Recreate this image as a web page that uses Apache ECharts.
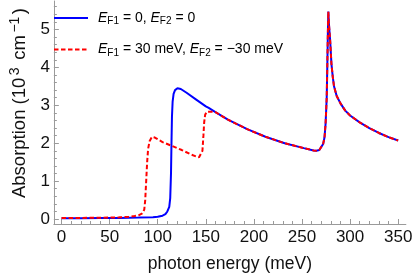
<!DOCTYPE html>
<html><head><meta charset="utf-8">
<script src="https://cdn.jsdelivr.net/npm/echarts@6/dist/echarts.min.js"></script>
<style>html,body{margin:0;padding:0;background:#fff}#c{width:415px;height:278px}</style>
</head><body><div id="c"></div>
<script>
// photon energy (meV) and absorption (10^3 cm^-1)
const blueEnergy = [0, 20, 40, 60, 80, 95, 100, 105, 108, 110, 112, 113, 113.8, 114.3, 114.8, 115.5, 116.5, 118, 120.5, 124, 130, 140, 150, 153, 160, 173, 193, 212, 232, 252, 262, 265, 268, 270, 272, 273.4, 274.5, 275.2, 275.7, 276.3, 276.9, 277.4, 278, 279.3, 280.6, 282, 283.3, 286, 290, 295, 300, 310, 320, 330, 340, 350];
const blueAbs = [0.02, 0.02, 0.025, 0.03, 0.04, 0.05, 0.06, 0.09, 0.13, 0.2, 0.32, 0.55, 1.2, 2.0, 2.7, 3.1, 3.3, 3.4, 3.45, 3.43, 3.33, 3.15, 2.97, 2.93, 2.82, 2.62, 2.37, 2.17, 2.0, 1.87, 1.81, 1.80, 1.82, 1.86, 1.98, 2.15, 2.5, 2.9, 3.2, 4.0, 4.9, 5.47, 5.15, 4.7, 4.1, 3.75, 3.5, 3.25, 3.05, 2.86, 2.73, 2.55, 2.40, 2.27, 2.16, 2.07];
const redEnergy = [0, 20, 40, 60, 70, 76, 80, 82, 84, 86, 87, 88, 89, 90, 91.5, 94, 97, 105, 114.6, 125, 135, 140, 143, 145, 146.5, 147.5, 148.3, 149.3, 151, 153, 157, 160, 173, 193, 212, 232, 252, 262, 265, 268, 270, 272, 273.4, 274.5, 275.2, 275.7, 276.3, 276.9, 277.4, 278, 279.3, 280.6, 282, 283.3, 286, 290, 295, 300, 310, 320, 330, 340, 350];
const redAbs = [0.03, 0.03, 0.035, 0.045, 0.06, 0.08, 0.1, 0.12, 0.15, 0.25, 0.5, 1.0, 1.5, 1.85, 2.05, 2.17, 2.15, 2.03, 1.93, 1.82, 1.7, 1.65, 1.63, 1.66, 1.8, 2.2, 2.55, 2.75, 2.83, 2.85, 2.83, 2.82, 2.62, 2.37, 2.17, 2.0, 1.87, 1.81, 1.80, 1.82, 1.86, 1.98, 2.15, 2.5, 2.9, 3.2, 4.0, 4.9, 5.47, 5.15, 4.7, 4.1, 3.75, 3.5, 3.25, 3.05, 2.86, 2.73, 2.55, 2.40, 2.27, 2.16, 2.07];
const xMajorTicks = [0, 50, 100, 150, 200, 250, 300, 350];
const xMinorTicks = [10,20,30,40,60,70,80,90,110,120,130,140,160,170,180,190,210,220,230,240,260,270,280,290,310,320,330,340];
const yMajorTicks = [0, 1, 2, 3, 4, 5];
const yMinorTicks = [0.2,0.4,0.6,0.8,1.2,1.4,1.6,1.8,2.2,2.4,2.6,2.8,3.2,3.4,3.6,3.8,4.2,4.4,4.6,4.8,5.2,5.4,5.6];
const seriesNames = ['blue', 'red'];

const FONT = '"Liberation Sans", Arial, sans-serif';
const axisGray = '#9a9a9a';
const xMin = -8, xMax = 358, yMin = -0.13, yMax = 5.75;

const chart = echarts.init(document.getElementById('c'), null, {renderer: 'canvas'});
const legendText = {
  blue: '{i|E}{s|F1}{n| = 0, }{i|E}{s|F2}{n| = 0}',
  red: '{i|E}{s|F1}{n| = 30 meV, }{i|E}{s|F2}{n| = \u221230 meV}'
};
const richLegend = {
  i: {fontStyle: 'italic', fontSize: 14, fontFamily: FONT, color: '#000'},
  s: {fontSize: 10, fontFamily: FONT, color: '#000', padding: [7, 0, 0, 0]},
  n: {fontSize: 14, fontFamily: FONT, color: '#000'}
};
function xAxisDef(ticks, len, labels) {
  return {
    type: 'value', min: xMin, max: xMax, position: 'bottom',
    axisLine: {show: labels, onZero: false, lineStyle: {color: axisGray, width: 1}},
    splitLine: {show: false},
    axisTick: {show: true, inside: true, length: len, customValues: ticks, lineStyle: {color: axisGray}},
    axisLabel: {show: labels, customValues: ticks, margin: 5, color: '#111', fontSize: 17, fontFamily: FONT},
    name: labels ? 'photon energy (meV)' : '', nameLocation: 'middle', nameGap: 31,
    nameTextStyle: {fontSize: 17.5, fontFamily: FONT, color: '#111'}
  };
}
function yAxisDef(ticks, len, labels) {
  return {
    type: 'value', min: yMin, max: yMax, position: 'left',
    axisLine: {show: labels, onZero: false, lineStyle: {color: axisGray, width: 1}},
    splitLine: {show: false},
    axisTick: {show: true, inside: true, length: len, customValues: ticks, lineStyle: {color: axisGray}},
    axisLabel: {show: labels, customValues: ticks, margin: 4, color: '#111', fontSize: 17, fontFamily: FONT},
    name: labels ? 'Absorption (10{sup|3} cm{sup|\u22121})' : '', nameLocation: 'middle', nameGap: 15,
    nameTextStyle: {fontSize: 18.5, fontFamily: FONT, color: '#111', padding: [0, 0, 0, 19],
      rich: {sup: {fontSize: 14, fontFamily: FONT, color: '#111', padding: [0, 2.5, 10, 2.5]}}}
  };
}
chart.setOption({
  animation: false,
  grid: {left: 38, right: 8, top: 1, bottom: 50, containLabel: false},
  xAxis: [xAxisDef(xMajorTicks, 5, true), xAxisDef(xMinorTicks, 3, false)],
  yAxis: [yAxisDef(yMajorTicks, 5, true), yAxisDef(yMinorTicks, 3, false)],
  legend: {
    show: true, orient: 'vertical', left: 48, top: 6, itemWidth: 34, itemHeight: 14, itemGap: 16,
    data: seriesNames,
    itemStyle: {opacity: 0},
    formatter: n => legendText[n],
    textStyle: {rich: richLegend, padding: [0, 0, 0, 5]}
  },
  series: [
    {name: 'blue', type: 'line', xAxisIndex: 0, yAxisIndex: 0, symbol: 'none', smooth: false,
     data: blueEnergy.map((e, k) => [e, blueAbs[k]]),
     lineStyle: {color: '#0000ff', width: 2}, itemStyle: {color: '#0000ff'}},
    {name: 'red', type: 'line', xAxisIndex: 0, yAxisIndex: 0, symbol: 'none', smooth: false,
     data: redEnergy.map((e, k) => [e, redAbs[k]]),
     lineStyle: {color: '#ff0000', width: 2, type: [4.5, 2.5]}, itemStyle: {color: '#ff0000'}}
  ]
});
</script></body></html>
